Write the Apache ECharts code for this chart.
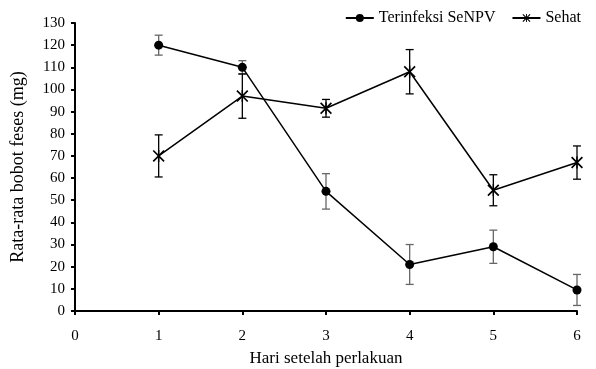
<!DOCTYPE html>
<html><head><meta charset="utf-8">
<script src="https://cdn.jsdelivr.net/npm/echarts@6/dist/echarts.min.js"></script>
<style>html,body{margin:0;padding:0;background:#fff}#c{width:596px;height:369px}</style>
</head><body><div id="c"></div>
<script>
const days = [1, 2, 3, 4, 5, 6];
const terinfeksi = [120, 110, 54, 21, 29, 9.5];
const terinfeksiErr = [4.5, 3, 8, 9, 7.5, 7];
const sehat = [70, 97, 91.5, 108, 54.5, 67];
const sehatErr = [9.5, 10, 4, 10, 7, 7.5];
const xTicks = [0, 1, 2, 3, 4, 5, 6];
const yTicks = [0, 10, 20, 30, 40, 50, 60, 70, 80, 90, 100, 110, 120, 130];

const FONT = 'Liberation Serif';
const starPath = 'path://M0,1L1,0L10,9L9,10Z M9,0L10,1L1,10L0,9Z M4.4,0L5.6,0L5.6,10L4.4,10Z';

function errData(vals, errs) {
  return days.map((d, i) => [d, vals[i] - errs[i], vals[i] + errs[i]]);
}
function errRender(color) {
  return function (params, api) {
    const x = api.value(0);
    const lo = api.coord([x, api.value(1)]);
    const hi = api.coord([x, api.value(2)]);
    const w = 4;
    const st = { stroke: color, lineWidth: 1.3 };
    return {
      type: 'group',
      children: [
        { type: 'line', shape: { x1: lo[0], y1: lo[1], x2: hi[0], y2: hi[1] }, style: st },
        { type: 'line', shape: { x1: lo[0] - w, y1: lo[1], x2: lo[0] + w, y2: lo[1] }, style: st },
        { type: 'line', shape: { x1: hi[0] - w, y1: hi[1], x2: hi[0] + w, y2: hi[1] }, style: st }
      ]
    };
  };
}

const chart = echarts.init(document.getElementById('c'));
chart.setOption({
  animation: false,
  textStyle: { fontFamily: FONT },
  grid: { left: 75, right: 19, top: 23, bottom: 58, containLabel: false, outerBoundsMode: 'none' },
  legend: {
    top: 5, right: 10, itemWidth: 28, itemHeight: 10, itemGap: 16,
    textStyle: { fontFamily: FONT, fontSize: 16, color: '#000' },
    data: ['Terinfeksi SeNPV', 'Sehat']
  },
  xAxis: {
    type: 'value', min: xTicks[0], max: xTicks[xTicks.length - 1], interval: 1,
    name: 'Hari setelah perlakuan', nameLocation: 'middle', nameGap: 39,
    nameTextStyle: { fontFamily: FONT, fontSize: 17, color: '#000' },
    axisLine: { show: true, lineStyle: { color: '#000', width: 2 } },
    axisTick: { show: true, length: 4, lineStyle: { color: '#000', width: 2 } },
    axisLabel: { fontFamily: FONT, fontSize: 15, color: '#000', margin: 18 },
    splitLine: { show: false }
  },
  yAxis: {
    type: 'value', min: yTicks[0], max: yTicks[yTicks.length - 1], interval: 10,
    name: 'Rata-rata bobot feses (mg)', nameLocation: 'middle', nameGap: 48,
    nameTextStyle: { fontFamily: FONT, fontSize: 18, color: '#000' },
    axisLine: { show: true, lineStyle: { color: '#000', width: 2 } },
    axisTick: { show: true, length: 4, lineStyle: { color: '#000', width: 2 } },
    axisLabel: { fontFamily: FONT, fontSize: 15, color: '#000', margin: 10 },
    splitLine: { show: false }
  },
  series: [
    {
      name: 'Terinfeksi SeNPV', type: 'line',
      data: days.map((d, i) => [d, terinfeksi[i]]),
      symbol: 'circle', symbolSize: 9,
      lineStyle: { color: '#000', width: 1.5 },
      itemStyle: { color: '#000' }, z: 3
    },
    {
      name: 'Sehat', type: 'line',
      data: days.map((d, i) => [d, sehat[i]]),
      symbol: starPath, symbolSize: 12,
      lineStyle: { color: '#000', width: 1.5 },
      itemStyle: { color: '#000' }, z: 3
    },
    {
      type: 'custom', renderItem: errRender('#666'),
      data: errData(terinfeksi, terinfeksiErr), z: 2, silent: true
    },
    {
      type: 'custom', renderItem: errRender('#000'),
      data: errData(sehat, sehatErr), z: 2, silent: true
    }
  ]
});
</script></body></html>
